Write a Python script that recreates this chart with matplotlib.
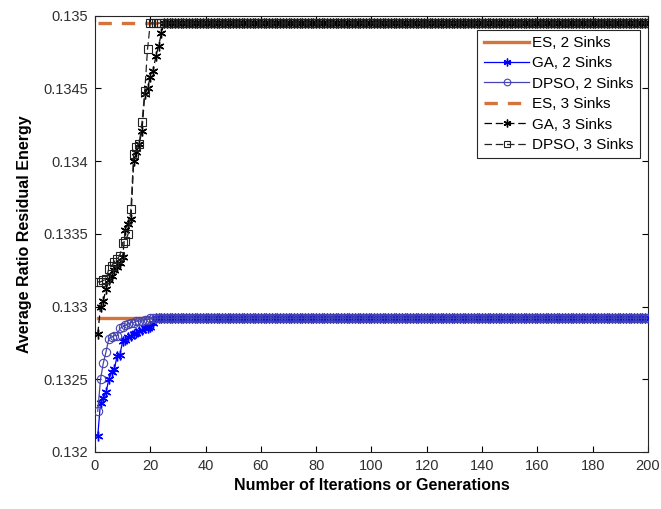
import numpy as np
import matplotlib
matplotlib.use("Agg")
import matplotlib.pyplot as plt

plt.rcParams['font.family'] = ['Liberation Sans', 'DejaVu Sans']

n_iter = 200
iterations = list(range(1, n_iter + 1))

es_2 = 0.13292
es_3 = 0.13495

ga_2_early = [0.13211, 0.13234, 0.13237, 0.13241, 0.13250, 0.13255, 0.13257, 0.13266,
              0.13267, 0.13276, 0.13277, 0.13279, 0.13280, 0.13281, 0.13282, 0.13283,
              0.13284, 0.13285, 0.13285, 0.13286, 0.13289, 0.13292]
dpso_2_early = [0.13228, 0.13250, 0.13261, 0.13269, 0.13278, 0.13279, 0.13280, 0.13280,
                0.13285, 0.13286, 0.13287, 0.13288, 0.13289, 0.13289, 0.13290, 0.13290,
                0.13290, 0.13291, 0.13291, 0.13292]
ga_3_early = [0.13281, 0.13300, 0.13304, 0.13312, 0.13318, 0.13321, 0.13325, 0.13327,
              0.13330, 0.13334, 0.13353, 0.13357, 0.13360, 0.13400, 0.13406, 0.13412,
              0.13421, 0.13446, 0.13450, 0.13458, 0.13462, 0.13472, 0.13479, 0.13488,
              0.13495]
dpso_3_early = [0.13317, 0.13317, 0.13318, 0.13319, 0.13326, 0.13328, 0.13331, 0.13333,
                0.13335, 0.13344, 0.13345, 0.13350, 0.13367, 0.13405, 0.13410, 0.13412,
                0.13427, 0.13448, 0.13477, 0.13495]

ga_2_final = 0.13292
dpso_2_final = 0.13292
ga_3_final = 0.13495
dpso_3_final = 0.13495


def full(early, final):
    return early + [final] * (n_iter - len(early))


ga_2 = full(ga_2_early, ga_2_final)
dpso_2 = full(dpso_2_early, dpso_2_final)
ga_3 = full(ga_3_early, ga_3_final)
dpso_3 = full(dpso_3_early, dpso_3_final)

x_ticks = list(range(0, 201, 20))
y_ticks = [0.132, 0.1325, 0.133, 0.1335, 0.134, 0.1345, 0.135]
y_tick_labels = ['0.132', '0.1325', '0.133', '0.1335', '0.134', '0.1345', '0.135']

fig = plt.figure(figsize=(6.61, 5.09), dpi=100)
ax = fig.add_axes([0.1437, 0.112, 0.8366, 0.857])

asterisk = (6, 2, 0)
orange = '#D4733B'
ax.plot(iterations, [es_2] * n_iter, color=orange, lw=2.4, label='ES, 2 Sinks', zorder=2)
ax.plot(iterations, ga_2, color='#0000FF', lw=0.9, marker=asterisk, ms=7, mew=1.0,
        label='GA, 2 Sinks', zorder=3)
ax.plot(iterations, dpso_2, color='#4545B0', lw=0.9, marker='o', ms=6, mfc='none',
        mew=0.8, label='DPSO, 2 Sinks', zorder=4)
ax.plot(iterations, [es_3] * n_iter, color=orange, lw=2.4, ls=(0, (4, 3)),
        label='ES, 3 Sinks', zorder=2)
ax.plot(iterations, ga_3, color='black', lw=0.9, ls=(0, (6, 3)), marker=asterisk, ms=7,
        mew=1.0, label='GA, 3 Sinks', zorder=3)
ax.plot(iterations, dpso_3, color='#222222', lw=0.9, ls=(0, (6, 3)), marker='s', ms=5.5,
        mfc='none', mew=0.8, label='DPSO, 3 Sinks', zorder=4)

ax.set_xlim(0, 200)
ax.set_ylim(0.132, 0.135)
ax.set_xticks(x_ticks)
ax.set_yticks(y_ticks)
ax.set_yticklabels(y_tick_labels)
ax.tick_params(direction='in', top=True, right=True, labelsize=10.5,
               labelcolor='#303030', length=4, pad=5)
for s in ax.spines.values():
    s.set_linewidth(0.8)
    s.set_color('#262626')

ax.set_xlabel('Number of Iterations or Generations', fontsize=11.5, fontweight='bold',
              labelpad=4)
ax.set_ylabel('Average Ratio Residual Energy', fontsize=11.5, fontweight='bold',
              labelpad=8)

leg = ax.legend(loc='upper right', bbox_to_anchor=(0.9855, 0.968), borderaxespad=0,
                fontsize=11, frameon=True, fancybox=False, edgecolor='#262626',
                handlelength=3.0, borderpad=0.4, labelspacing=0.42, handletextpad=0.2,
                framealpha=1, markerscale=0.8)
leg.get_frame().set_linewidth(0.8)

fig.savefig('out.png', dpi=100)
